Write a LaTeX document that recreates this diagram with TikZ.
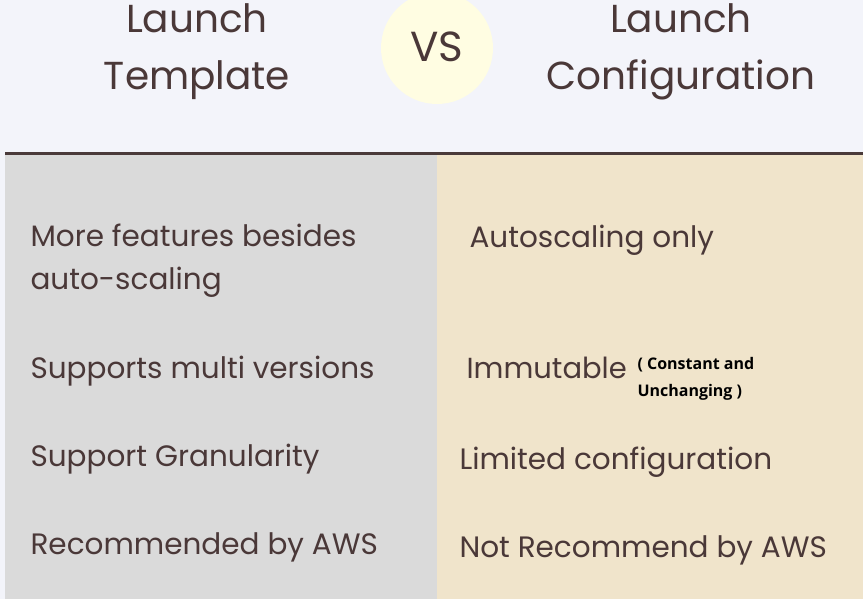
\documentclass[tikz,border=0pt]{standalone}
\usepackage{fontspec}
\setmainfont{Poppins}
\newfontfamily\smallbold{Open Sans}
\definecolor{txt}{HTML}{4A3838}
\definecolor{topbg}{HTML}{F3F4FA}
\definecolor{leftbg}{HTML}{DADADA}
\definecolor{rightbg}{HTML}{F0E4CB}
\definecolor{circ}{HTML}{FFFDE2}
\definecolor{rule}{HTML}{4A3A3A}
\tikzset{
 head/.style={text=txt,font=\fontsize{39}{57}\selectfont,align=center},
 body/.style={text=txt,font=\fontsize{29.5}{43}\selectfont,anchor=west,align=left},
 note/.style={text=black,font=\smallbold\bfseries\fontsize{16}{27}\selectfont,anchor=west,align=left}
}
\begin{document}
\begin{tikzpicture}[x=1pt,y=-1pt]
\fill[topbg] (0,0) rectangle (863,599);
\useasboundingbox (0,0) rectangle (863,599);
\fill[leftbg] (5,155) rectangle (437,599);
\fill[rightbg] (437,155) rectangle (863,599);
\draw[rule,line width=3pt] (5,154) -- (863,154);
\fill[circ] (437,48) circle (56);
\node[head,font=\fontsize{42}{50}\selectfont] (vs) at (437,47) {VS};
\node[head] (lt) at (197,52) {Launch\\Template};
\node[head] (lc) at (681,52) {Launch\\Configuration};
\node[body] (l1) at (27,261) {More features besides\\auto-scaling};
\node[body] (l2) at (27,371) {Supports multi versions};
\node[body] (l3) at (27,459) {Support Granularity};
\node[body] (l4) at (27,547) {Recommended by AWS};
\node[body] (r1) at (466,240) {Autoscaling only};
\node[body,font=\fontsize{29}{43}\selectfont] (r2) at (463,368) {Immutable};
\node[note] (rn) at (634,379) {( Constant and\\Unchanging )};
\node[body] (r3) at (456,462) {Limited configuration};
\node[body] (r4) at (456,550) {Not Recommend by AWS};
\end{tikzpicture}
\end{document}
